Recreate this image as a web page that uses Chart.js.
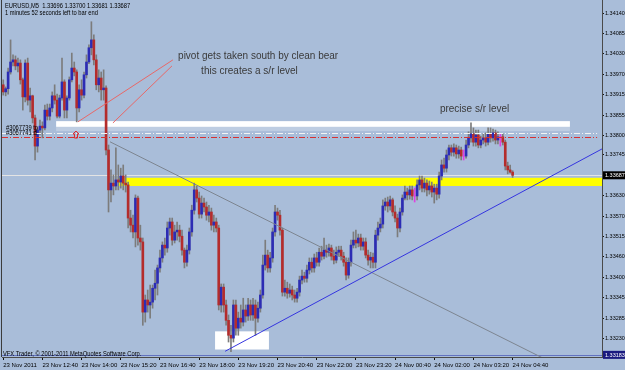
<!DOCTYPE html>
<html>
<head>
<meta charset="utf-8">
<title>EURUSD,M5</title>
<script src="https://cdn.jsdelivr.net/npm/chart.js@4"></script>
<style>
  html, body { margin: 0; padding: 0; background: #a9bdd9; }
  canvas { display: block; }
</style>
</head>
<body>
<canvas id="chart" width="625" height="370"></canvas>
<script>
// EURUSD M5 candles, 23 Nov 2011 11:20 -> 24 Nov 2011 04:40
const opens = [
  1.33941,1.33921,1.33930,1.33977,1.34005,1.34011,1.33994,1.34002,1.33955,1.33907,
  1.34002,1.33898,1.33910,1.33848,1.33769,1.33814,1.33825,1.33820,1.33870,1.33853,
  1.33876,1.33910,1.33898,1.33853,1.33904,1.33949,1.33870,1.33904,1.33955,1.33988,
  1.33977,1.33876,1.33927,1.33912,1.33969,1.34005,1.34045,1.34067,1.34011,1.33941,
  1.33960,1.33927,1.33932,1.33758,1.33646,1.33665,1.33657,1.33674,1.33668,1.33685,
  1.33665,1.33660,1.33567,1.33547,1.33528,1.33623,1.33511,1.33500,1.33303,1.33337,
  1.33323,1.33331,1.33370,1.33384,1.33427,1.33455,1.33491,1.33483,1.33539,1.33556,
  1.33505,1.33528,1.33533,1.33516,1.33477,1.33443,1.33477,1.33528,1.33589,1.33646,
  1.33623,1.33578,1.33609,1.33598,1.33575,1.33584,1.33547,1.33556,1.33539,1.33323,
  1.33373,1.33323,1.33280,1.33238,1.33230,1.33323,1.33258,1.33286,1.33275,1.33309,
  1.33292,1.33323,1.33295,1.33323,1.33286,1.33314,1.33351,1.33435,1.33463,1.33427,
  1.33455,1.33528,1.33584,1.33575,1.33533,1.33359,1.33370,1.33356,1.33365,1.33351,
  1.33342,1.33359,1.33393,1.33404,1.33398,1.33421,1.33443,1.33427,1.33455,1.33443,
  1.33471,1.33460,1.33477,1.33471,1.33483,1.33460,1.33449,1.33471,1.33477,1.33460,
  1.33443,1.33407,1.33443,1.33491,1.33505,1.33497,1.33511,1.33488,1.33500,1.33463,
  1.33449,1.33457,1.33443,1.33519,1.33539,1.33550,1.33601,1.33612,1.33601,1.33618,
  1.33584,1.33567,1.33539,1.33584,1.33623,1.33640,1.33632,1.33646,1.33629,1.33629,
  1.33660,1.33674,1.33651,1.33665,1.33646,1.33657,1.33640,1.33651,1.33634,1.33685,
  1.33716,1.33707,1.33744,1.33764,1.33752,1.33764,1.33747,1.33758,1.33741,1.33741,
  1.33772,1.33792,1.33803,1.33780,1.33800,1.33772,1.33786,1.33792,1.33780,1.33803,
  1.33792,1.33806,1.33786,1.33795,1.33795,1.33780,1.33713,1.33702,1.33696
];
const highs = [
  1.33955,1.33935,1.33988,1.34067,1.34025,1.34022,1.34016,1.34011,1.33960,1.34011,
  1.34016,1.33932,1.33912,1.33856,1.33820,1.33842,1.33837,1.33884,1.33887,1.33887,
  1.33921,1.33941,1.33915,1.33912,1.34016,1.33955,1.33910,1.33963,1.34030,1.34005,
  1.33983,1.33941,1.33955,1.33977,1.34025,1.34053,1.34118,1.34081,1.34025,1.33983,
  1.33977,1.33983,1.33938,1.33772,1.33702,1.33688,1.33764,1.33716,1.33707,1.33716,
  1.33688,1.33668,1.33589,1.33575,1.33632,1.33629,1.33547,1.33511,1.33351,1.33365,
  1.33379,1.33379,1.33421,1.33435,1.33477,1.33500,1.33511,1.33556,1.33567,1.33567,
  1.33547,1.33556,1.33547,1.33533,1.33483,1.33491,1.33539,1.33603,1.33665,1.33657,
  1.33640,1.33629,1.33623,1.33612,1.33603,1.33595,1.33575,1.33567,1.33547,1.33382,
  1.33382,1.33337,1.33295,1.33266,1.33337,1.33337,1.33303,1.33323,1.33342,1.33323,
  1.33342,1.33337,1.33342,1.33337,1.33331,1.33365,1.33463,1.33505,1.33477,1.33471,
  1.33539,1.33603,1.33595,1.33589,1.33539,1.33393,1.33387,1.33382,1.33376,1.33365,
  1.33370,1.33404,1.33421,1.33415,1.33435,1.33455,1.33455,1.33466,1.33471,1.33483,
  1.33488,1.33511,1.33491,1.33494,1.33491,1.33477,1.33486,1.33488,1.33488,1.33471,
  1.33455,1.33455,1.33505,1.33528,1.33533,1.33522,1.33522,1.33511,1.33511,1.33477,
  1.33471,1.33469,1.33533,1.33556,1.33567,1.33618,1.33623,1.33626,1.33629,1.33623,
  1.33601,1.33578,1.33595,1.33632,1.33657,1.33651,1.33657,1.33657,1.33651,1.33674,
  1.33685,1.33685,1.33679,1.33674,1.33671,1.33668,1.33662,1.33662,1.33696,1.33730,
  1.33735,1.33758,1.33772,1.33772,1.33775,1.33772,1.33769,1.33766,1.33758,1.33786,
  1.33809,1.33834,1.33820,1.33814,1.33814,1.33797,1.33803,1.33806,1.33820,1.33820,
  1.33817,1.33814,1.33809,1.33803,1.33803,1.33786,1.33724,1.33716,1.33700
];
const lows = [
  1.33912,1.33910,1.33915,1.33971,1.33994,1.33983,1.33977,1.33943,1.33870,1.33893,
  1.33884,1.33865,1.33834,1.33730,1.33752,1.33800,1.33792,1.33814,1.33842,1.33842,
  1.33865,1.33887,1.33848,1.33848,1.33898,1.33848,1.33848,1.33898,1.33949,1.33966,
  1.33837,1.33865,1.33898,1.33904,1.33960,1.34000,1.34025,1.33997,1.33927,1.33921,
  1.33898,1.33898,1.33744,1.33584,1.33612,1.33632,1.33646,1.33646,1.33651,1.33646,
  1.33640,1.33539,1.33528,1.33511,1.33486,1.33491,1.33477,1.33266,1.33275,1.33303,
  1.33286,1.33314,1.33337,1.33351,1.33415,1.33443,1.33463,1.33471,1.33519,1.33491,
  1.33497,1.33505,1.33500,1.33463,1.33427,1.33432,1.33466,1.33516,1.33578,1.33612,
  1.33567,1.33567,1.33584,1.33561,1.33556,1.33533,1.33528,1.33528,1.33309,1.33303,
  1.33303,1.33266,1.33219,1.33192,1.33219,1.33238,1.33238,1.33258,1.33264,1.33275,
  1.33280,1.33280,1.33280,1.33238,1.33275,1.33303,1.33342,1.33421,1.33415,1.33415,
  1.33443,1.33516,1.33561,1.33519,1.33348,1.33348,1.33342,1.33345,1.33337,1.33331,
  1.33331,1.33348,1.33382,1.33387,1.33387,1.33410,1.33415,1.33415,1.33432,1.33432,
  1.33449,1.33452,1.33457,1.33460,1.33449,1.33438,1.33441,1.33460,1.33449,1.33432,
  1.33393,1.33398,1.33432,1.33483,1.33483,1.33486,1.33477,1.33477,1.33455,1.33435,
  1.33427,1.33427,1.33427,1.33505,1.33528,1.33539,1.33589,1.33584,1.33589,1.33573,
  1.33556,1.33514,1.33528,1.33575,1.33618,1.33618,1.33620,1.33618,1.33612,1.33618,
  1.33646,1.33640,1.33640,1.33629,1.33634,1.33626,1.33609,1.33618,1.33623,1.33674,
  1.33696,1.33696,1.33730,1.33741,1.33741,1.33735,1.33735,1.33730,1.33730,1.33735,
  1.33764,1.33780,1.33769,1.33769,1.33764,1.33764,1.33775,1.33769,1.33772,1.33780,
  1.33783,1.33775,1.33775,1.33769,1.33772,1.33702,1.33691,1.33693,1.33681
];
const closes = [
  1.33921,1.33930,1.33977,1.34005,1.34011,1.33994,1.34002,1.33955,1.33907,1.34002,
  1.33898,1.33910,1.33848,1.33769,1.33814,1.33825,1.33820,1.33870,1.33853,1.33876,
  1.33910,1.33898,1.33853,1.33904,1.33949,1.33870,1.33904,1.33955,1.33988,1.33977,
  1.33876,1.33927,1.33912,1.33969,1.34005,1.34045,1.34067,1.34011,1.33941,1.33960,
  1.33927,1.33932,1.33758,1.33646,1.33665,1.33657,1.33674,1.33668,1.33685,1.33665,
  1.33660,1.33567,1.33547,1.33528,1.33623,1.33511,1.33500,1.33303,1.33337,1.33323,
  1.33331,1.33370,1.33384,1.33427,1.33455,1.33491,1.33483,1.33539,1.33556,1.33505,
  1.33528,1.33533,1.33516,1.33477,1.33443,1.33477,1.33528,1.33589,1.33646,1.33623,
  1.33578,1.33609,1.33598,1.33575,1.33584,1.33547,1.33556,1.33539,1.33323,1.33373,
  1.33323,1.33280,1.33238,1.33230,1.33323,1.33258,1.33286,1.33275,1.33309,1.33292,
  1.33323,1.33295,1.33323,1.33286,1.33314,1.33351,1.33435,1.33463,1.33427,1.33455,
  1.33528,1.33584,1.33575,1.33533,1.33359,1.33370,1.33356,1.33365,1.33351,1.33342,
  1.33359,1.33393,1.33404,1.33398,1.33421,1.33443,1.33427,1.33455,1.33443,1.33471,
  1.33460,1.33477,1.33471,1.33483,1.33460,1.33449,1.33471,1.33477,1.33460,1.33443,
  1.33407,1.33443,1.33491,1.33505,1.33497,1.33511,1.33488,1.33500,1.33463,1.33449,
  1.33457,1.33443,1.33519,1.33539,1.33550,1.33601,1.33612,1.33601,1.33618,1.33584,
  1.33567,1.33539,1.33584,1.33623,1.33640,1.33632,1.33646,1.33629,1.33629,1.33660,
  1.33674,1.33651,1.33665,1.33646,1.33657,1.33640,1.33651,1.33634,1.33685,1.33716,
  1.33707,1.33744,1.33764,1.33752,1.33764,1.33747,1.33758,1.33741,1.33741,1.33772,
  1.33792,1.33803,1.33780,1.33800,1.33772,1.33786,1.33792,1.33780,1.33803,1.33792,
  1.33806,1.33786,1.33795,1.33795,1.33780,1.33713,1.33702,1.33696,1.33687
];

// time axis: one label every 16 bars (80 min)
const timeLabels = [
  '23 Nov 2011', '23 Nov 12:40', '23 Nov 14:00', '23 Nov 15:20', '23 Nov 16:40',
  '23 Nov 18:00', '23 Nov 19:20', '23 Nov 20:40', '23 Nov 22:00', '23 Nov 23:20',
  '24 Nov 00:40', '24 Nov 02:00', '24 Nov 03:20', '24 Nov 04:40'
];
const barsPerLabel = 16;
const totalSlots = 245; // visible bar slots incl. empty space on the right

const priceTicks = [
  1.34140, 1.34085, 1.34030, 1.33970, 1.33915, 1.33855, 1.33800, 1.33745,
  1.33630, 1.33570, 1.33515, 1.33460, 1.33400, 1.33345, 1.33285, 1.33230
];
const priceMin = 1.33177;
const priceMax = 1.34179;

const bidPrice = 1.33687;
const alertPrice = 1.33183;
const tpPrice = 1.33806;
const slPrice = 1.33795;
const buyArrow = [29.7, 1.33800];

// zones: [fromBar, toBar, topPrice, bottomPrice]  (toBar null = to right edge)
const srZone = [21.6, 231.4, 1.33839, 1.33823];
const srShade = [21.6, 231.4, 1.33823, 1.33811];
const yellowZone = [46.9, null, 1.33680, 1.33657];
const lowZone = [86.5, 108.5, 1.33249, 1.33198];

// trend lines: [bar1, price1, bar2, price2]
const grayTrend = [43.6, 1.33781, 216.3, 1.33188];
const blueTrend = [90.6, 1.33193, 244.5, 1.33761];
const pivotLines = [
  [69.3, 1.34011, 30.5, 1.33837],
  [68.9, 1.33994, 44.8, 1.33834]
];

const notes = [
  { text: 'pivot gets taken south by clean bear', bar: 71.4, price: 1.34022 },
  { text: 'this creates a s/r level', bar: 80.8, price: 1.33980 },
  { text: 'precise s/r level', bar: 178.3, price: 1.33873 }
];

const header1 = 'EURUSD,M5  1.33696 1.33700 1.33681 1.33687';
const header2 = '1 minutes 52 seconds left to bar end';
const copyright = 'VFX Trader, \u00A9 2001-2011 MetaQuotes Software Corp.';

const BG = '#a9bdd9';
const BULL = '#2c2cb4';
const BEAR = '#b42c2c';
const DOJI = '#e040e0';
const WICK = '#7c7c7c';

const slotLabels = Array.from({ length: totalSlots }, (_, i) => i);
const bodies = opens.map((o, i) => [o, closes[i]]);
const wicks = lows.map((l, i) => [l, highs[i]]);

function candleColor(i) {
  if (closes[i] > opens[i]) return BULL;
  if (closes[i] < opens[i]) return BEAR;
  return DOJI;
}

// small condensed text like the terminal font
function smallText(ctx, str, x, y, color) {
  ctx.save();
  ctx.translate(x, y);
  ctx.scale(0.72, 1);
  ctx.font = '8px "Liberation Sans", Arial, sans-serif';
  ctx.fillStyle = color || '#000';
  ctx.textAlign = 'left';
  ctx.textBaseline = 'middle';
  ctx.fillText(str, 0, 0);
  ctx.restore();
}

function fillZone(chart, z, color) {
  const xs = chart.scales.x, ys = chart.scales.y, a = chart.chartArea;
  const x1 = xs.getPixelForValue(z[0]);
  const x2 = z[1] === null ? a.right : xs.getPixelForValue(z[1]);
  const y1 = ys.getPixelForValue(z[2]);
  const y2 = ys.getPixelForValue(z[3]);
  chart.ctx.fillStyle = color;
  chart.ctx.fillRect(x1, y1, x2 - x1, y2 - y1);
}

function segment(chart, l, color, width, ext) {
  const xs = chart.scales.x, ys = chart.scales.y, ctx = chart.ctx;
  const x1 = xs.getPixelForValue(l[0]), y1 = ys.getPixelForValue(l[1]);
  let x2 = xs.getPixelForValue(l[2]), y2 = ys.getPixelForValue(l[3]);
  if (ext) { x2 = x1 + (x2 - x1) * ext; y2 = y1 + (y2 - y1) * ext; }
  ctx.beginPath();
  ctx.moveTo(x1, y1);
  ctx.lineTo(x2, y2);
  ctx.strokeStyle = color;
  ctx.lineWidth = width;
  ctx.stroke();
}

function hLine(chart, price, color, dash, toBar) {
  const ys = chart.scales.y, a = chart.chartArea, ctx = chart.ctx;
  const y = Math.round(ys.getPixelForValue(price)) + 0.5;
  const xEnd = toBar ? chart.scales.x.getPixelForValue(toBar) : a.right;
  ctx.save();
  ctx.setLineDash(dash || []);
  ctx.beginPath();
  ctx.moveTo(a.left, y);
  ctx.lineTo(xEnd, y);
  ctx.strokeStyle = color;
  ctx.lineWidth = 1;
  ctx.stroke();
  ctx.restore();
}

function priceBox(chart, price, bg) {
  const ys = chart.scales.y, a = chart.chartArea, ctx = chart.ctx;
  const y = ys.getPixelForValue(price);
  ctx.fillStyle = bg;
  ctx.fillRect(a.right + 1, y - 4, chart.width - a.right - 1, 8);
  ctx.fillStyle = '#fff';
  ctx.font = '5.5px "Liberation Sans", Arial, sans-serif';
  ctx.textAlign = 'left';
  ctx.textBaseline = 'middle';
  ctx.fillText(price.toFixed(5), a.right + 3, y + 0.5);
}

const overlay = {
  id: 'overlay',
  beforeDraw(chart) {
    const ctx = chart.ctx;
    ctx.save();
    ctx.fillStyle = BG;
    ctx.fillRect(0, 0, chart.width, chart.height);
    ctx.restore();
  },
  beforeDatasetsDraw(chart) {
    const a = chart.chartArea, ctx = chart.ctx;
    ctx.save();
    ctx.beginPath();
    ctx.rect(a.left, a.top, a.width, a.height);
    ctx.clip();
    fillZone(chart, srZone, '#ffffff');
    fillZone(chart, srShade, 'rgba(255,255,255,0.25)');
    fillZone(chart, yellowZone, '#ffff00');
    fillZone(chart, lowZone, '#ffffff');
    hLine(chart, bidPrice, '#e4e4e4');
    ctx.restore();
  },
  afterDatasetsDraw(chart) {
    const a = chart.chartArea, ctx = chart.ctx;
    const xs = chart.scales.x, ys = chart.scales.y;
    ctx.save();
    ctx.beginPath();
    ctx.rect(a.left, a.top, a.width, a.height);
    ctx.clip();

    hLine(chart, alertPrice, '#6272c0');
    hLine(chart, tpPrice, '#f4f4f4', [6, 2, 1, 2], 242.5);
    hLine(chart, slPrice, '#d83030', [6, 2, 1, 2], 242.5);

    segment(chart, grayTrend, '#7d8590', 1, 1.1);
    segment(chart, blueTrend, '#3535e0', 1);
    pivotLines.forEach(l => segment(chart, l, '#e86868', 1));

    // buy arrow
    const ax = xs.getPixelForValue(buyArrow[0]), ay = ys.getPixelForValue(buyArrow[1]);
    ctx.beginPath();
    ctx.moveTo(ax, ay - 4);
    ctx.lineTo(ax + 3, ay - 1);
    ctx.lineTo(ax + 1.5, ay - 1);
    ctx.lineTo(ax + 1.5, ay + 3);
    ctx.lineTo(ax - 1.5, ay + 3);
    ctx.lineTo(ax - 1.5, ay - 1);
    ctx.lineTo(ax - 3, ay - 1);
    ctx.closePath();
    ctx.strokeStyle = '#e02828';
    ctx.lineWidth = 1;
    ctx.stroke();

    // order labels
    smallText(ctx, '#3067739 tp', a.left + 4, ys.getPixelForValue(1.33820));
    smallText(ctx, '#3067741 sl', a.left + 4, ys.getPixelForValue(tpPrice));

    // annotations
    ctx.font = '10px "Liberation Sans", Arial, sans-serif';
    ctx.fillStyle = '#3a3a3a';
    ctx.textAlign = 'left';
    ctx.textBaseline = 'middle';
    notes.forEach(n => ctx.fillText(n.text, xs.getPixelForValue(n.bar), ys.getPixelForValue(n.price)));
    ctx.restore();
  },
  afterDraw(chart) {
    const a = chart.chartArea, ctx = chart.ctx;
    ctx.save();
    // left frame
    ctx.fillStyle = '#3c3c3c';
    ctx.fillRect(a.left - 1, a.top, 1, a.height);
    priceBox(chart, bidPrice, '#000000');
    priceBox(chart, alertPrice, '#1a1a80');
    smallText(ctx, header1, a.left + 3, 6);
    smallText(ctx, header2, a.left + 3, 13);
    smallText(ctx, copyright, a.left + 1, a.bottom - 3);
    ctx.restore();
  }
};

new Chart(document.getElementById('chart'), {
  type: 'bar',
  data: {
    labels: slotLabels,
    datasets: [
      {
        label: 'body',
        data: bodies,
        backgroundColor: bodies.map((_, i) => candleColor(i)),
        barThickness: 2,
        grouped: false,
        borderWidth: 0,
        order: 0
      },
      {
        label: 'wick',
        data: wicks,
        backgroundColor: wicks.map((_, i) => closes[i] === opens[i] ? DOJI : WICK),
        barThickness: 1,
        grouped: false,
        borderWidth: 0,
        order: 1
      }
    ]
  },
  options: {
    responsive: false,
    maintainAspectRatio: false,
    animation: false,
    events: [],
    layout: { padding: { left: 2, top: 0, right: 0, bottom: 0 } },
    plugins: {
      legend: { display: false },
      tooltip: { enabled: false }
    },
    scales: {
      x: {
        type: 'category',
        offset: true,
        grid: { display: true, drawOnChartArea: false, offset: false, tickLength: 3, color: '#111' },
        border: { display: true, color: '#4a4a4a' },
        ticks: {
          autoSkip: false,
          maxRotation: 0,
          minRotation: 0,
          align: 'start',
          padding: 2,
          color: '#000',
          font: { family: 'Liberation Sans', size: 6 },
          callback: (v) => timeLabels[v / barsPerLabel] || ''
        },
        afterBuildTicks: (scale) => {
          scale.ticks = scale.ticks.filter(t => t.value % barsPerLabel === 0 && t.value / barsPerLabel < timeLabels.length);
        },
        afterFit: (scale) => {
          scale.height = 13;
          scale.paddingLeft = 0; scale.paddingRight = 0;
          scale.paddingTop = 0; scale.paddingBottom = 0;
        }
      },
      y: {
        type: 'linear',
        position: 'right',
        bounds: 'data',
        min: priceMin,
        max: priceMax,
        grid: { display: true, drawOnChartArea: false, tickLength: 2, color: '#111' },
        border: { display: true, color: '#4a4a4a' },
        ticks: {
          padding: 1,
          color: '#000',
          font: { family: 'Liberation Sans', size: 5.5 },
          callback: (v) => Number(v).toFixed(5)
        },
        afterBuildTicks: (scale) => {
          scale.ticks = priceTicks.map(v => ({ value: v }));
        },
        afterFit: (scale) => {
          scale.width = 23;
          scale.paddingLeft = 0; scale.paddingRight = 0;
          scale.paddingTop = 0; scale.paddingBottom = 0;
        }
      }
    }
  },
  plugins: [overlay]
});
</script>
</body>
</html>
